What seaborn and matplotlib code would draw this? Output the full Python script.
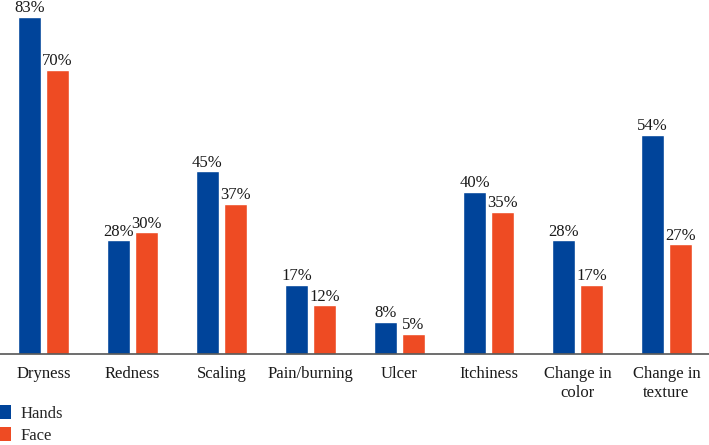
import matplotlib
matplotlib.use("Agg")
import matplotlib.pyplot as plt
import seaborn as sns
import pandas as pd

categories = ["Dryness", "Redness", "Scaling", "Pain/burning", "Ulcer", "Itchiness",
              "Change in\ncolor", "Change in\ntexture"]
hands = [83, 28, 45, 17, 8, 40, 28, 54]
face = [70, 30, 37, 12, 5, 35, 17, 27]
series = ["Hands", "Face"]
colors = ["#00449A", "#EE4B23"]

df = pd.DataFrame({
    "category": categories * 2,
    "value": hands + face,
    "series": [series[0]] * len(categories) + [series[1]] * len(categories),
})

sns.set_style("white")
plt.rcParams["font.family"] = ["Liberation Serif", "DejaVu Serif"]

fig = plt.figure(figsize=(7.09, 4.45), dpi=100)
ax = fig.add_axes([0.0, 0.2045, 1.0, 0.7955])
sns.barplot(data=df, x="category", y="value", hue="series", palette=colors,
            width=0.63, gap=0.18, ax=ax, legend=False, saturation=1)

for cont in ax.containers:
    ax.bar_label(cont, labels=[f"{int(v)}%" for v in cont.datavalues],
                 padding=0.5, fontsize=12, color="#1a1a1a")

ax.set_xlim(-0.489, 7.478)
ax.set_ylim(0, 87.2)
ax.set_yticks([])
ax.set_xlabel("")
ax.set_ylabel("")
for s in ["top", "right", "left"]:
    ax.spines[s].set_visible(False)
ax.spines["bottom"].set_color("#555555")
ax.spines["bottom"].set_linewidth(1.2)
ax.tick_params(axis="x", length=0, pad=9, labelsize=12, labelcolor="#1a1a1a")

from matplotlib.patches import Patch
handles = [Patch(facecolor=c, edgecolor="none") for c in colors]
fig.legend(handles, series, loc="upper left", bbox_to_anchor=(-0.012, 0.105),
           frameon=False, fontsize=12, handlelength=0.75, handleheight=0.9,
           handletextpad=0.6, labelspacing=0.35, borderaxespad=0)

fig.savefig("out.png", dpi=100)
